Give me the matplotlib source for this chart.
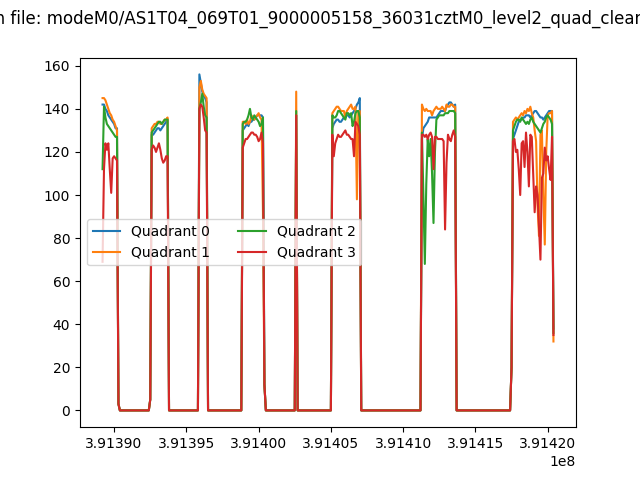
import numpy as np
import matplotlib
matplotlib.use('Agg')
import matplotlib.pyplot as plt

# time bins (s), 100 s binning
t_start = 391389204.0
bin_size = 100.0
n_bins = 313

# first bin of every good-time segment
seg_start = [0, 34, 67, 97, 134, 159, 221, 284]

# partially exposed bins at segment edges (same in all quadrants)
edge_bins = [11, 33, 112, 283]
edge_vals = [3, 5, 12, 20]

# count rates per segment, one list per quadrant
quad0 = [
    [142, 142, 140, 139, 137, 136, 135, 134, 133, 131, 131],
    [128, 128, 129, 130, 131, 131, 130, 131, 132, 133, 134, 135],
    [156, 152, 148, 146, 145, 143],
    [130, 131, 132, 133, 132, 134, 134, 135, 135, 136, 137, 137, 137, 137, 136],
    [137],
    [131, 133, 134, 135, 135, 134, 134, 135, 136, 136, 137, 137, 136, 137, 138, 139, 140, 142, 143, 145],
    [126, 131, 132, 133, 134, 136, 136, 136, 136, 136, 136, 137, 138, 139, 139, 139, 139, 141, 142, 143, 143, 142, 141, 142],
    [126, 128, 130, 132, 134, 135, 135, 136, 136, 137, 137, 137, 136, 137, 138, 139, 139, 138, 137, 136, 136, 135, 136, 137, 138, 139, 139, 139, 38],
]
quad1 = [
    [145, 145, 144, 142, 140, 138, 137, 135, 134, 132, 130],
    [131, 132, 133, 133, 134, 134, 133, 133, 134, 135, 135, 136],
    [150, 153, 149, 147, 146, 145],
    [134, 134, 133, 135, 133, 134, 137, 136, 135, 136, 137, 138, 136, 135, 92],
    [148],
    [138, 139, 140, 141, 141, 140, 139, 139, 139, 136, 139, 140, 141, 142, 140, 140, 141, 98, 139, 139],
    [142, 140, 139, 140, 139, 139, 139, 137, 139, 140, 141, 140, 140, 140, 141, 140, 139, 142, 141, 141, 142, 142, 141, 141],
    [134, 135, 136, 135, 136, 137, 138, 137, 139, 138, 140, 139, 141, 138, 136, 130, 125, 95, 81, 128, 130, 100, 77, 120, 137, 138, 138, 139, 32],
]
quad2 = [
    [112, 141, 136, 133, 132, 131, 130, 129, 128, 127, 127],
    [129, 130, 131, 132, 133, 134, 134, 133, 134, 135, 135, 135],
    [140, 143, 147, 141, 137, 136],
    [133, 134, 134, 135, 137, 140, 136, 135, 137, 136, 135, 134, 132, 133, 136],
    [139],
    [137, 136, 136, 137, 139, 139, 138, 137, 136, 135, 138, 138, 137, 138, 132, 134, 138, 139, 139, 136],
    [129, 100, 68, 105, 126, 118, 126, 110, 87, 120, 135, 136, 137, 137, 137, 137, 138, 138, 138, 139, 139, 139, 139, 138],
    [130, 132, 134, 135, 135, 134, 136, 135, 134, 133, 134, 133, 135, 136, 134, 133, 132, 131, 130, 129, 131, 133, 134, 136, 137, 136, 135, 133, 36],
]
quad3 = [
    [69, 112, 124, 121, 124, 112, 101, 117, 118, 117, 116],
    [121, 123, 122, 120, 122, 124, 121, 117, 115, 116, 118, 118],
    [140, 142, 141, 136, 130, 129],
    [122, 124, 126, 126, 127, 128, 129, 129, 128, 128, 127, 125, 126, 129, 124],
    [137],
    [128, 118, 124, 126, 128, 127, 127, 128, 129, 130, 128, 128, 127, 126, 126, 118, 134, 133, 132, 128],
    [128, 128, 127, 128, 126, 128, 129, 127, 112, 127, 127, 126, 126, 126, 126, 125, 84, 115, 128, 126, 125, 128, 130, 127],
    [125, 126, 120, 121, 112, 100, 124, 125, 113, 129, 120, 104, 128, 127, 110, 92, 104, 100, 85, 70, 108, 110, 122, 116, 118, 112, 107, 127, 35],
]
quads = [quad0, quad1, quad2, quad3]
labels = ['Quadrant 0', 'Quadrant 1', 'Quadrant 2', 'Quadrant 3']

filename = 'modeM0/AS1T04_069T01_9000005158_36031cztM0_level2_quad_clean.evt'

time = t_start + bin_size * np.arange(n_bins)

fig = plt.figure(figsize=(6.4, 4.8), dpi=100)
for q in range(4):
    rate = np.zeros(n_bins)
    for b, v in zip(edge_bins, edge_vals):
        rate[b] = v
    for s, vals in zip(seg_start, quads[q]):
        rate[s:s + len(vals)] = vals
    plt.plot(time, rate, label=labels[q])

plt.legend(loc='center left', ncol=2)
plt.suptitle('LC in file: ' + filename)
plt.savefig('out.png')
